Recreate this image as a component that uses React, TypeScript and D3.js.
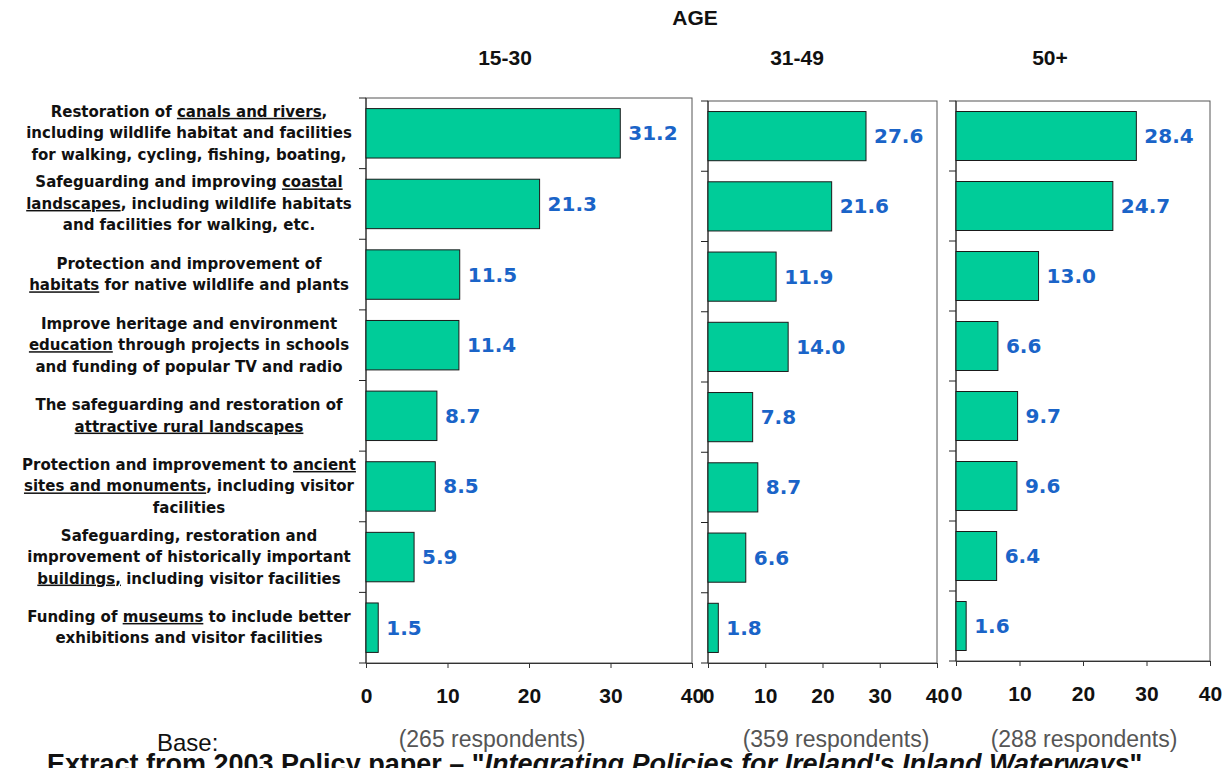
import React from 'react';
import * as d3 from 'd3';

// Labels: words between underscores are underlined, as in the source slide
const categoryLines = [
  ['Restoration of _canals and rivers_,', 'including wildlife habitat and facilities', 'for walking, cycling, fishing, boating,'],
  ['Safeguarding and improving _coastal_', '_landscapes_, including wildlife habitats', 'and facilities for walking, etc.'],
  ['Protection and improvement of', '_habitats_ for native wildlife and plants'],
  ['Improve heritage and environment', '_education_ through projects in schools', 'and funding of popular TV and radio'],
  ['The safeguarding and restoration of', '_attractive rural landscapes_'],
  ['Protection and improvement to _ancient_', '_sites and monuments_, including visitor', 'facilities'],
  ['Safeguarding, restoration and', 'improvement of historically important', '_buildings,_ including visitor facilities'],
  ['Funding of _museums_ to include better', 'exhibitions and visitor facilities'],
];

const ageGroups = ['15-30', '31-49', '50+'];
const values1530 = [31.2, 21.3, 11.5, 11.4, 8.7, 8.5, 5.9, 1.5];
const values3149 = [27.6, 21.6, 11.9, 14.0, 7.8, 8.7, 6.6, 1.8];
const values50plus = [28.4, 24.7, 13.0, 6.6, 9.7, 9.6, 6.4, 1.6];
const respondents = [265, 359, 288];
const xTicks = [0, 10, 20, 30, 40];

const panels = [
  { x0: 366, x1: 692, top: 98, bottom: 663, values: values1530, headerX: 505, baseX: 492 },
  { x0: 708, x1: 937, top: 101, bottom: 663, values: values3149, headerX: 797, baseX: 836 },
  { x0: 956, x1: 1210, top: 101, bottom: 661, values: values50plus, headerX: 1050, baseX: 1084 },
];

const BAR_FILL = '#00CC99';
const VALUE_BLUE = '#1A64C8';
const LABEL_FONT = '"DejaVu Sans", Verdana, sans-serif';
const ARIAL = '"Liberation Sans", Arial, sans-serif';

const BottomAxis = ({ scale, y }: { scale: any; y: number }) => {
  const ref = React.useRef<SVGGElement>(null);
  React.useEffect(() => {
    if (!ref.current) return;
    const axis = d3.axisBottom(scale).tickValues(xTicks).tickSize(5).tickSizeOuter(0);
    const g = d3.select(ref.current).call(axis as any);
    g.select('.domain').attr('stroke', '#333');
    g.selectAll('.tick line').attr('stroke', '#333');
    g.selectAll('.tick text')
      .attr('y', 40)
      .attr('dy', 0)
      .attr('fill', '#111')
      .style('font-family', ARIAL)
      .style('font-weight', 'bold')
      .style('font-size', '21px');
  }, [scale]);
  return <g ref={ref} transform={`translate(0,${y})`} />;
};

function LabelLine({ text, x, y }: { text: string; x: number; y: number }) {
  const parts = text.split('_');
  return (
    <text x={x} y={y} textAnchor="middle" fontFamily={LABEL_FONT} fontWeight="bold" fontSize={15} fill="#111">
      {parts.map((p, i) => (
        <tspan key={i} style={i % 2 === 1 ? { textDecoration: 'underline' } : undefined}>{p}</tspan>
      ))}
    </text>
  );
}

function Panel({ x0, x1, top, bottom, values, count, header, headerX, baseX }: any) {
  const xScale = React.useMemo(() => d3.scaleLinear().domain([0, 40]).range([x0, x1]), [x0, x1]);
  const yScale = d3.scaleBand<number>()
    .domain(d3.range(values.length))
    .range([top, bottom])
    .paddingInner(0.3)
    .paddingOuter(0.15);
  const step = yScale.step();
  const fmt = d3.format('.1f');

  return (
    <g>
      <text x={headerX} y={65} textAnchor="middle" fontFamily={ARIAL} fontWeight="bold" fontSize={21} fill="#111">
        {header}
      </text>
      <rect x={x0} y={top} width={x1 - x0} height={bottom - top} fill="none" stroke="#555" strokeWidth={1} />
      <line x1={x0} x2={x0} y1={top} y2={bottom} stroke="#222" />
      {d3.range(values.length + 1).map(i => (
        <line key={i} x1={x0 - 7} x2={x0} y1={top + i * step} y2={top + i * step} stroke="#222" />
      ))}
      {values.map((v: number, i: number) => (
        <g key={i}>
          <rect
            x={xScale(0)}
            y={yScale(i)}
            width={xScale(v) - xScale(0)}
            height={yScale.bandwidth()}
            fill={BAR_FILL}
            stroke="#1a1a1a"
            strokeWidth={1}
          />
          <text
            x={xScale(v) + 8}
            y={(yScale(i) as number) + yScale.bandwidth() / 2}
            dominantBaseline="central"
            fontFamily={LABEL_FONT}
            fontWeight="bold"
            fontSize={20}
            fill={VALUE_BLUE}
          >
            {fmt(v)}
          </text>
        </g>
      ))}
      <BottomAxis scale={xScale} y={bottom} />
      <text x={baseX} y={747} textAnchor="middle" fontFamily={ARIAL} fontSize={23} fill="#555">
        ({count} respondents)
      </text>
    </g>
  );
}

export default function App() {
  const labelScale = d3.scaleBand<number>()
    .domain(d3.range(categoryLines.length))
    .range([98, 663]);
  const lineHeight = 21.5;

  return (
    <div style={{ position: 'absolute', left: 0, top: 0 }}>
      <svg width={1224} height={768} style={{ display: 'block', background: '#fff' }}>
        <text x={695} y={25} textAnchor="middle" fontFamily={ARIAL} fontWeight="bold" fontSize={21} fill="#111">AGE</text>

        {categoryLines.map((lines, i) => {
          const cy = (labelScale(i) as number) + labelScale.bandwidth() / 2;
          const firstBaseline = cy - ((lines.length - 1) * lineHeight) / 2 + 5;
          return (
            <g key={i}>
              {lines.map((l, j) => (
                <LabelLine key={j} text={l} x={189} y={firstBaseline + j * lineHeight} />
              ))}
            </g>
          );
        })}

        {panels.map((p, i) => (
          <Panel key={i} {...p} header={ageGroups[i]} count={respondents[i]} />
        ))}

        <text x={157} y={751} fontFamily={ARIAL} fontSize={24} fill="#111">Base:</text>
        <text x={47} y={773} fontFamily={ARIAL} fontWeight="bold" fontSize={27} fill="#111">
          Extract from 2003 Policy paper – "<tspan fontStyle="italic">Integrating Policies for Ireland's Inland Waterways</tspan>" .
        </text>
      </svg>
    </div>
  );
}
